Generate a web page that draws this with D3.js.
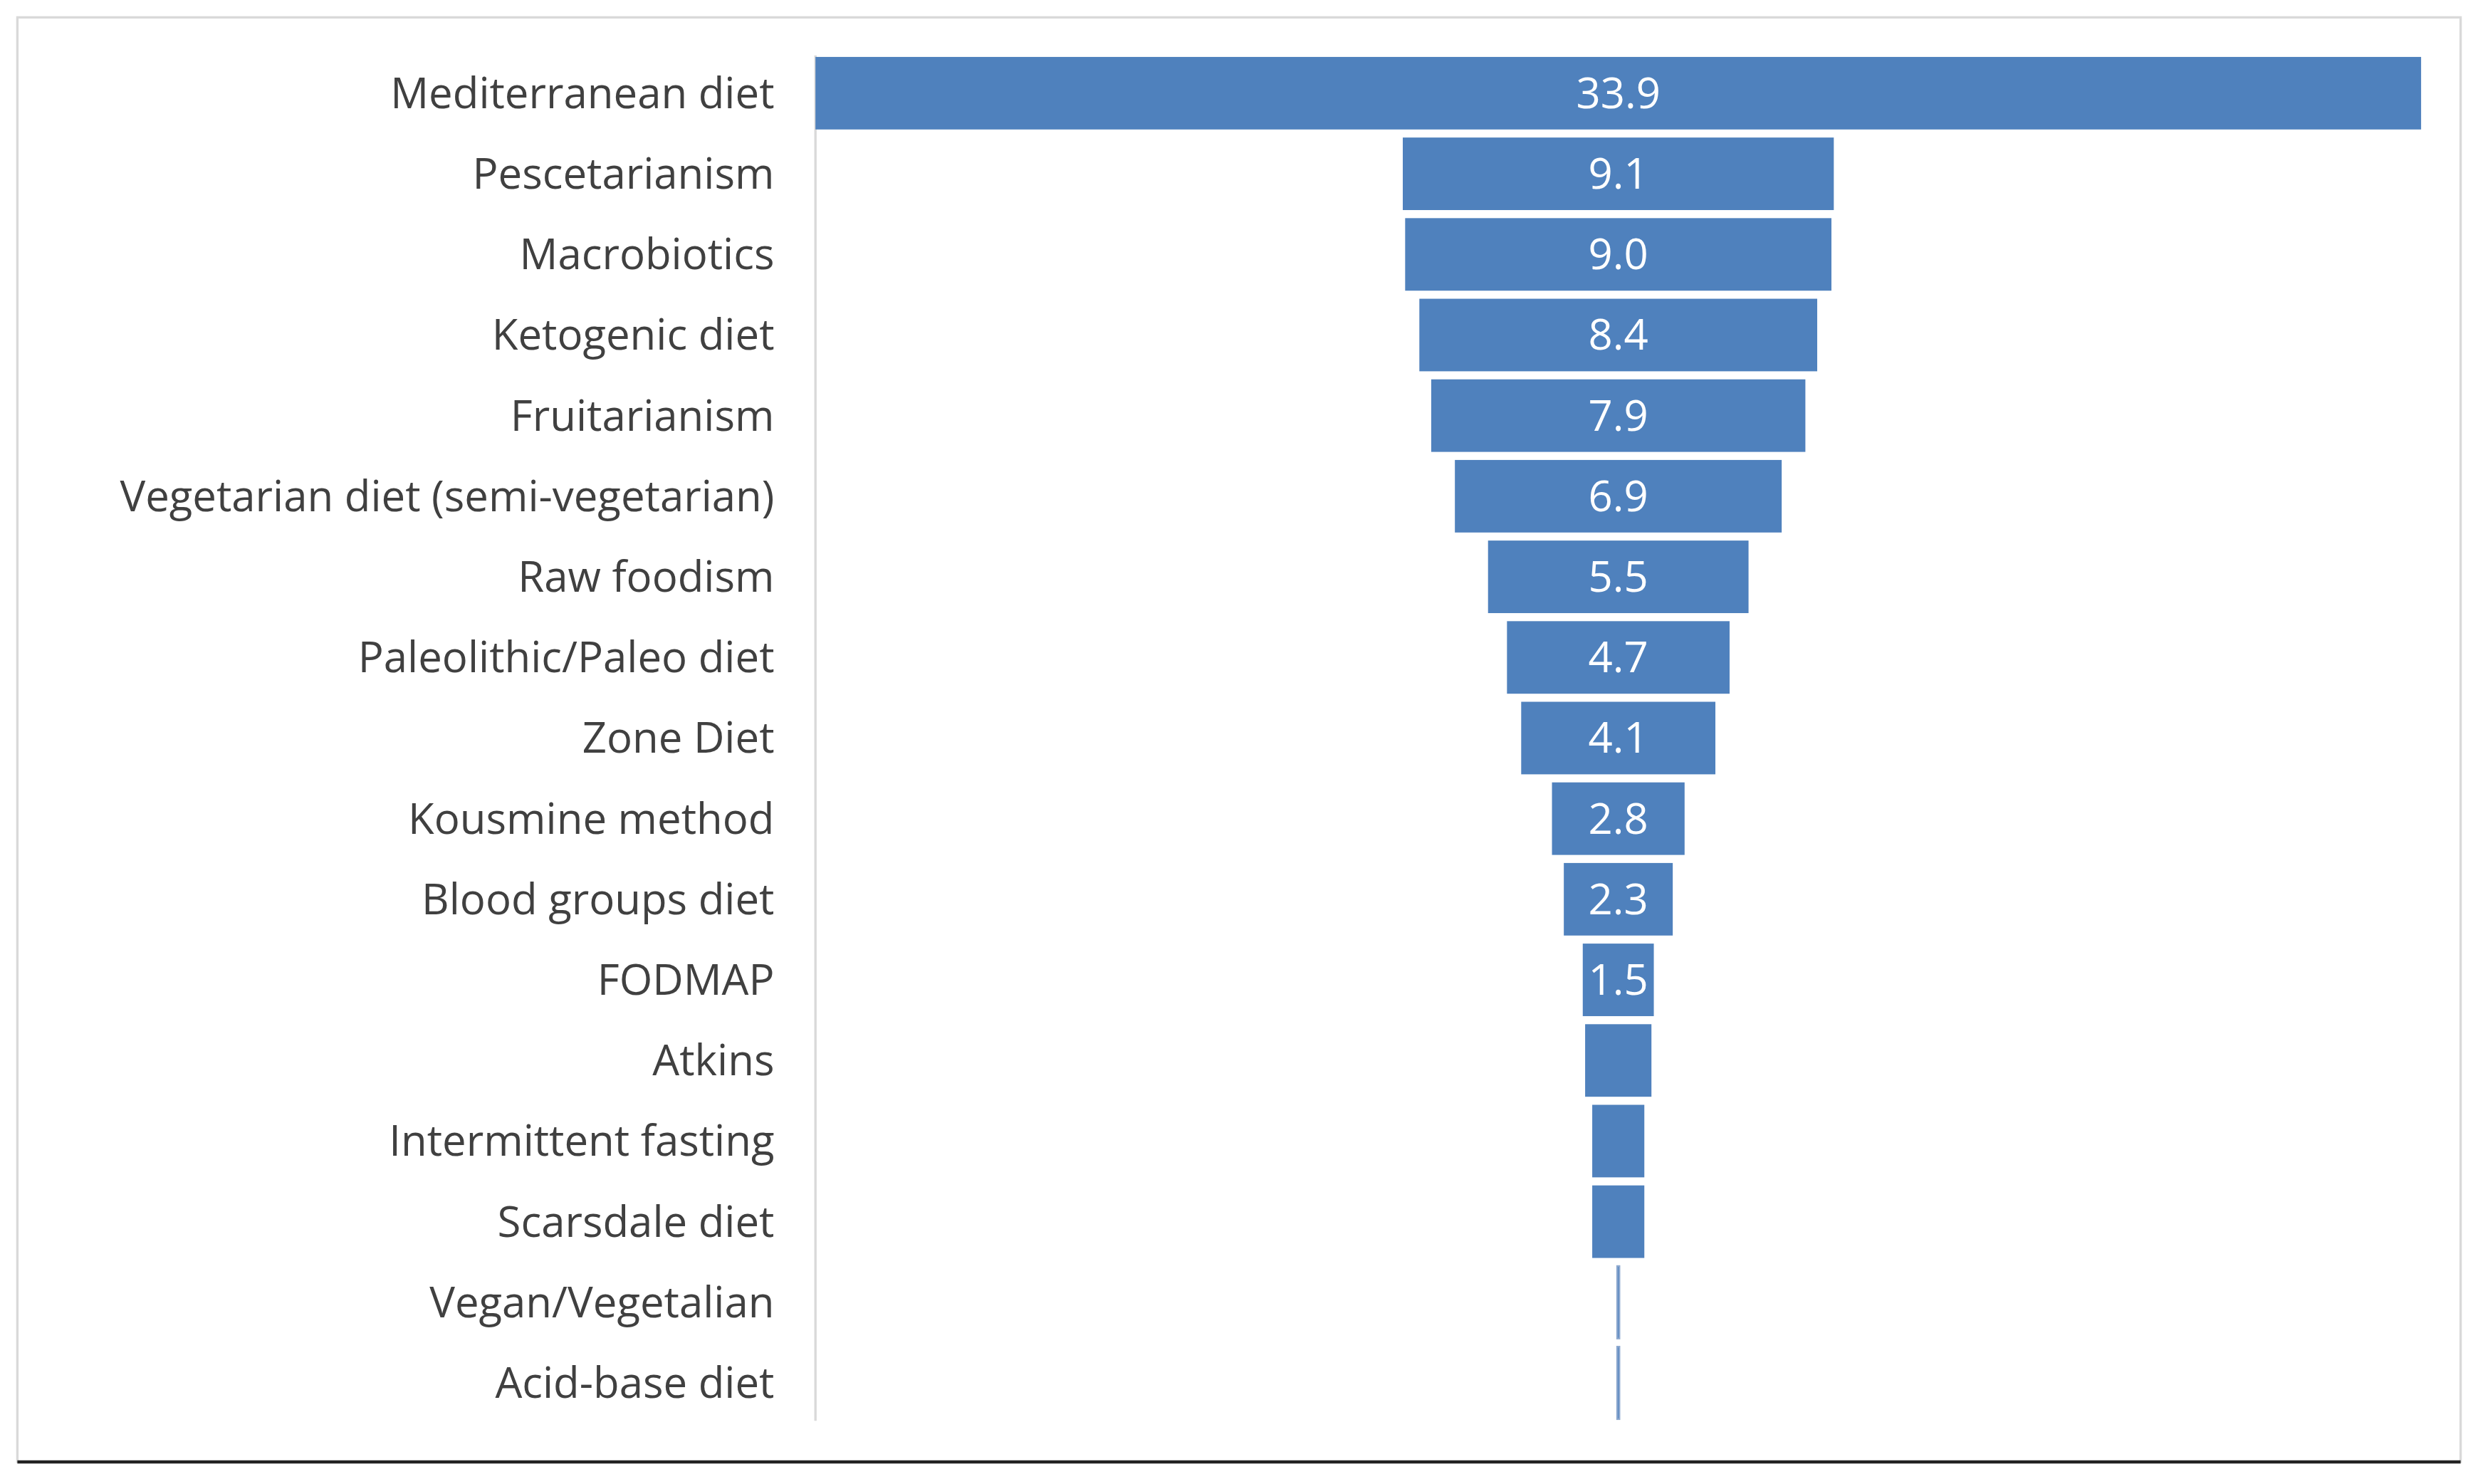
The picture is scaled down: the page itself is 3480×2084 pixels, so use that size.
<!DOCTYPE html>
<html><head><meta charset="utf-8">
<script src="https://cdn.jsdelivr.net/npm/d3@7"></script>
<style>body{margin:0;background:#fff}</style>
</head><body>
<div id="chart"></div>
<script>
// categories and values
var diets = ["Mediterranean diet","Pescetarianism","Macrobiotics","Ketogenic diet","Fruitarianism",
  "Vegetarian diet (semi-vegetarian)","Raw foodism","Paleolithic/Paleo diet","Zone Diet","Kousmine method",
  "Blood groups diet","FODMAP","Atkins","Intermittent fasting","Scarsdale diet","Vegan/Vegetalian","Acid-base diet"];
var shares = [33.9,9.1,9.0,8.4,7.9,6.9,5.5,4.7,4.1,2.8,2.3,1.5,1.4,1.1,1.1,0.05,0.05];
var shownLabels = [true,true,true,true,true,true,true,true,true,true,true,true,false,false,false,false,false];

var W = 1568, H = 939, center = 1024;

var svg = d3.select("#chart").append("svg")
	.attr("width", 3480).attr("height", 2084)
	.attr("viewBox", "0 0 " + W + " " + H);

// frame
svg.append("rect").attr("x", 11).attr("y", 11).attr("width", 1546).attr("height", 914)
	.attr("fill", "none").attr("stroke", "#d9d9d9").attr("stroke-width", 1.5);
svg.append("line").attr("x1", 11).attr("x2", 1557).attr("y1", 925).attr("y2", 925)
	.attr("stroke", "#222").attr("stroke-width", 2);

var y = d3.scaleBand().domain(diets).range([35, 899]).paddingInner(0.1).paddingOuter(0.02);
var w = d3.scaleLinear().domain([0, 33.9]).range([0, 1016]);

// axis line
svg.append("line").attr("x1", 516).attr("x2", 516).attr("y1", 35).attr("y2", 899)
	.attr("stroke", "#d9d9d9").attr("stroke-width", 1.5);

svg.selectAll("rect.bar").data(diets).enter().append("rect")
	.attr("class", "bar")
	.attr("x", (d, i) => center - w(shares[i]) / 2)
	.attr("y", d => y(d))
	.attr("width", (d, i) => Math.max(w(shares[i]), 1.5))
	.attr("height", y.bandwidth())
	.attr("fill", "#4f81bd")
	.attr("stroke", (d, i) => shares[i] < 0.5 ? "#8ea9cf" : "none");

svg.selectAll("text.cat").data(diets).enter().append("text")
	.attr("class", "cat")
	.attr("x", 490).attr("y", d => y(d) + y.bandwidth() / 2)
	.attr("dy", "0.35em").attr("text-anchor", "end")
	.attr("font-family", "Open Sans, sans-serif").attr("font-size", 27)
	.attr("fill", "#404040")
	.text(d => d);

svg.selectAll("text.val").data(diets.filter((d, i) => shownLabels[i])).enter().append("text")
	.attr("class", "val")
	.attr("x", center).attr("y", d => y(d) + y.bandwidth() / 2)
	.attr("dy", "0.35em").attr("text-anchor", "middle")
	.attr("font-family", "Open Sans, sans-serif").attr("font-size", 27)
	.attr("fill", "#fff")
	.text(d => shares[diets.indexOf(d)].toFixed(1));
</script>
</body></html>
